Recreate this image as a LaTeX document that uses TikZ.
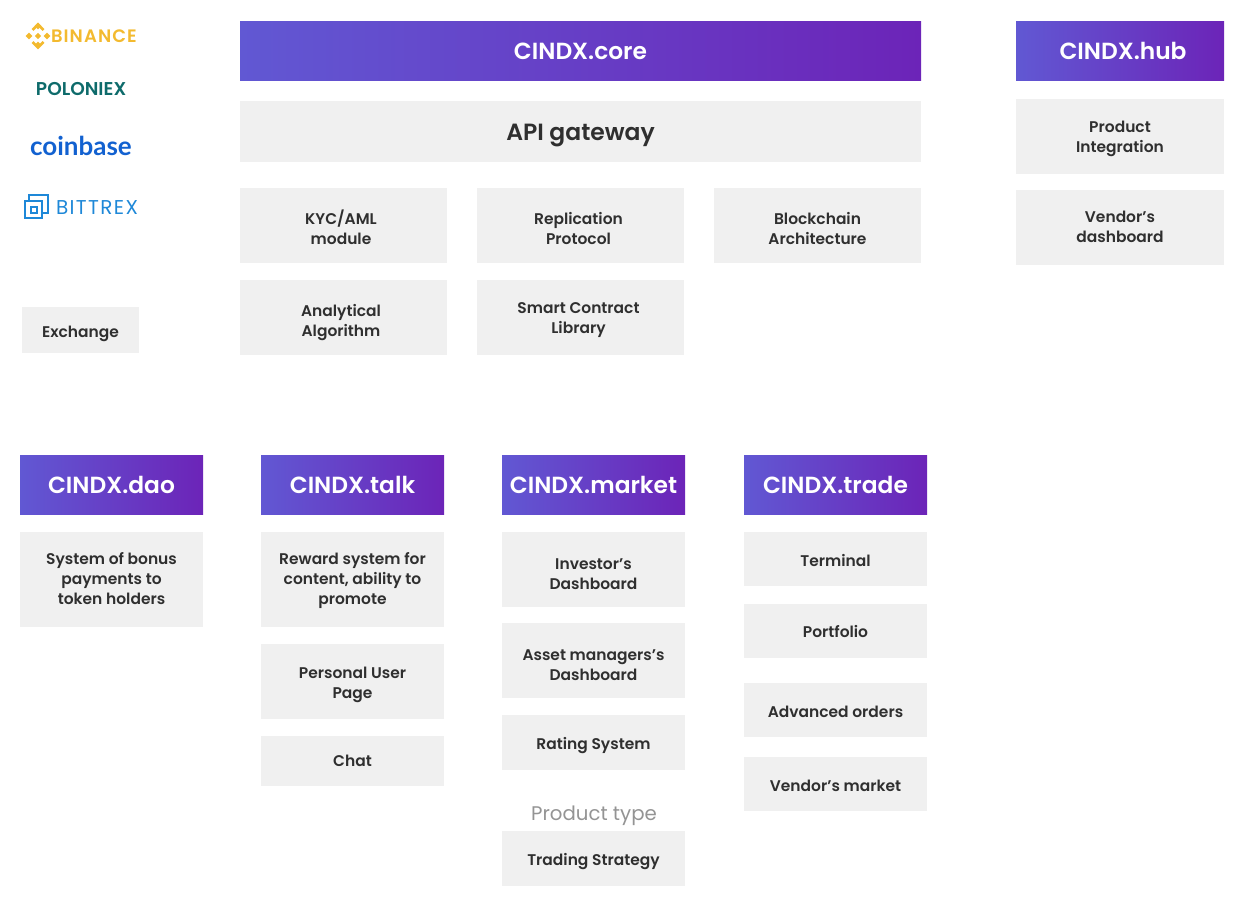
\documentclass[tikz,border=0pt]{standalone}
\usepackage{fontspec}
\setmainfont{Poppins}[BoldFont={Poppins SemiBold}]
\newfontfamily\cbfont{Lato}
\usetikzlibrary{calc}
\definecolor{gbox}{HTML}{F0F0F0}
\definecolor{gtext}{HTML}{2F2F2F}
\definecolor{gl}{HTML}{6158D3}
\definecolor{gr}{HTML}{6C24B8}
\definecolor{bin}{HTML}{F3BA2F}
\definecolor{pol}{HTML}{0E6B6B}
\definecolor{cb}{HTML}{1261D0}
\definecolor{bt}{HTML}{1E88D8}
\tikzset{
 base/.style={inner sep=0pt,outer sep=0pt},
 graybox/.style={base,fill=gbox},
 gradbox/.style={base,left color=gl,right color=gr},
 smalltext/.style={base,align=center,text=gtext,font=\fontsize{11.6}{15}\selectfont\bfseries},
 whitetitle/.style={base,align=center,text=white,font=\fontsize{17.5}{22}\selectfont\bfseries},
 darktitle/.style={base,align=center,text=gtext,font=\fontsize{17.6}{22}\selectfont\bfseries},
 logotext/.style={inner sep=0pt,outer sep=0pt,anchor=west},
 note/.style={inner sep=0pt,text=black!42,font=\fontsize{14.8}{18}\selectfont},
}
\newcommand{\bxx}[8]{%
 \pgfmathsetlengthmacro{\bw}{(#5-#3)*0.75pt}%
 \pgfmathsetlengthmacro{\bh}{(#6-#4)*0.75pt}%
 \node[#1,minimum width=\bw,minimum height=\bh] (#2) at ({(#3+#5)/2},{(#4+#6)/2}) {};%
 \node[#7] (#2t) at ($(#2.center)+#8$) }
\begin{document}
\begin{tikzpicture}[x=0.75pt,y=-0.75pt]
\useasboundingbox (0,0) rectangle (1245,910);
% core
\bxx{gradbox}{core}{240}{21}{921}{80.5}{whitetitle}{(0,0.3)}{CINDX.core};
\bxx{graybox}{api}{240}{101}{921}{162}{darktitle}{(0,3.5)}{API gateway};
\bxx{graybox}{kyc}{240}{188}{447}{263}{smalltext}{(-2.5,2)}{KYC/AML\\module};
\bxx{graybox}{rep}{477}{188}{684}{263}{smalltext}{(-2,3)}{Replication\\Protocol};
\bxx{graybox}{blk}{714}{188}{921}{263}{smalltext}{(0,3)}{Blockchain\\Architecture};
\bxx{graybox}{ana}{240}{280}{447}{355}{smalltext}{(-2.5,5)}{Analytical\\Algorithm};
\bxx{graybox}{sml}{477}{280}{684}{355}{smalltext}{(-2,3)}{Smart Contract\\Library};
% hub
\bxx{gradbox}{hub}{1016}{21}{1224}{80.5}{whitetitle}{(3,0.3)}{CINDX.hub};
\bxx{graybox}{pin}{1016}{99}{1224}{174}{smalltext}{(0,2)}{Product\\Integration};
\bxx{graybox}{ven}{1016}{190}{1224}{265}{smalltext}{(0,-1)}{Vendor’s\\dashboard};
% exchange
\bxx{graybox}{exc}{22}{307}{139}{353}{smalltext}{(0,4)}{Exchange};
% dao
\bxx{gradbox}{dao}{20}{455}{203}{514.5}{whitetitle}{(0,0.3)}{CINDX.dao};
\bxx{graybox}{bon}{20}{532}{203}{627}{smalltext}{(0,-0.5)}{System of bonus\\payments to\\token holders};
% talk
\bxx{gradbox}{talk}{261}{455}{444}{514.5}{whitetitle}{(0,0.3)}{CINDX.talk};
\bxx{graybox}{rew}{261}{532}{444}{627}{smalltext}{(0,1)}{Reward system for\\content, ability to\\promote};
\bxx{graybox}{per}{261}{644}{444}{719}{smalltext}{(0,3)}{Personal User\\Page};
\bxx{graybox}{cha}{261}{736}{444}{786}{smalltext}{(0,0)}{Chat};
% market
\bxx{gradbox}{mkt}{502}{455}{685}{514.5}{whitetitle}{(0,0.3)}{CINDX.market};
\bxx{graybox}{inv}{502}{532}{685}{607}{smalltext}{(0,5)}{Investor’s\\Dashboard};
\bxx{graybox}{ast}{502}{623}{685}{698}{smalltext}{(0,5)}{Asset managers’s\\Dashboard};
\bxx{graybox}{rat}{502}{715}{685}{770}{smalltext}{(0,3)}{Rating System};
\node[note] (pty) at (594,815.5) {Product type};
\bxx{graybox}{trs}{502}{831}{685}{886}{smalltext}{(0,3)}{Trading Strategy};
% trade
\bxx{gradbox}{trd}{744}{455}{927}{514.5}{whitetitle}{(0,0.3)}{CINDX.trade};
\bxx{graybox}{ter}{744}{532}{927}{586}{smalltext}{(0,1)}{Terminal};
\bxx{graybox}{por}{744}{604}{927}{658}{smalltext}{(0,0.3)}{Portfolio};
\bxx{graybox}{adv}{744}{683}{927}{737}{smalltext}{(0,2)}{Advanced orders};
\bxx{graybox}{vmk}{744}{757}{927}{811}{smalltext}{(0,2)}{Vendor’s market};
% logos
\foreach \cx/\cy/\r in {38/26/3.4,38/45/3.4,29/36/3.4,47/36/3.4,38/36/3.2}
  \fill[bin] (\cx-\r,\cy) -- (\cx,\cy-\r) -- (\cx+\r,\cy) -- (\cx,\cy+\r) -- cycle;
\draw[bin,line width=1.9pt] (32.5,30) -- (38,24.5) -- (43.5,30) (32.5,42) -- (38,47.5) -- (43.5,42);
\node[logotext,text=bin,font=\fontsize{13.5}{15}\selectfont\bfseries\addfontfeature{LetterSpace=6}] (lbin) at (51,36) {BINANCE};
\node[logotext,text=pol,font=\fontsize{13.9}{15}\selectfont\bfseries] (lpol) at (36,89) {POLONIEX};
\node[logotext,text=cb,font=\cbfont\fontsize{19.5}{24}\selectfont\bfseries] (lcb) at (30,146) {coinbase};
\draw[bt,line width=1.5pt] (29,200) -- (29,195) -- (48,195) -- (48,213) -- (43,213);
\draw[bt,line width=1.5pt] (25,201) rectangle (42,218);
\draw[bt,line width=1.5pt] (31,207) rectangle (37,213);
\node[logotext,text=bt,font=\fontsize{15}{18}\selectfont\addfontfeature{LetterSpace=7}] (lbt) at (56,207.5) {BITTREX};
\end{tikzpicture}
\end{document}
